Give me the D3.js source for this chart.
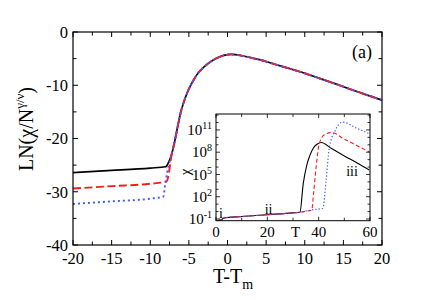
<!DOCTYPE html>
<html>
<head>
<meta charset="utf-8">
<script src="https://cdn.jsdelivr.net/npm/d3@7"></script>
<style>
  body { margin: 0; background: white; }
  text { font-family: "Liberation Serif", "Times New Roman", serif; fill: black; }
</style>
</head>
<body>
<script>

// main panel: [T - Tm, LN(chi / N^(gamma/nu))]
var blackLow = [[-20, -26.4], [-15, -26.0], [-10, -25.55], [-8, -25.3], [-7.6, -24.4]];
var redLow = [[-20, -29.4], [-15, -28.95], [-10, -28.5], [-7.9, -28.1], [-7.6, -26.6], [-7.4, -24.6]];
var blueLow = [[-20, -32.3], [-15, -31.8], [-10, -31.3], [-8.3, -30.9], [-8.1, -29.0], [-7.8, -26.3], [-7.5, -24.4]];
var sharedBranch = [[-7.2, -22.8], [-6.8, -20.3], [-6.4, -17.4], [-6, -14.8], [-5.5, -12.5],
  [-5, -10.7], [-4.5, -9.3], [-4, -8.1], [-3, -6.5], [-2, -5.4], [-1, -4.65], [0, -4.25],
  [0.5, -4.2], [1, -4.25], [2, -4.5], [3, -4.8], [4, -5.15], [5, -5.55], [6, -6.0], [8, -6.85],
  [10, -7.75], [12, -8.75], [14, -9.75], [16, -10.8], [18, -11.8], [20, -12.8]];

// inset: [T, log10(chi)]
var insetLow = [[0.5, -1.2], [2, -1.1], [3.5, -0.83], [10, -0.67], [20, -0.42], [30, -0.17], [32.7, -0.08]];
var insetBlack = [[34.0, 3.8], [35.4, 6.3], [36.5, 7.5], [38, 8.6], [39.5, 9.1], [41, 9.3], [45, 8.5], [50, 7.5], [55, 6.55], [59.7, 5.6]];
var insetRed = [[35, 0.05], [37.3, 0.2], [38, 2.4], [39, 6.0], [40.2, 9.1], [42.2, 10.35], [45, 10.65], [50, 9.77], [55, 8.88], [59.7, 8.05]];
var insetBlue = [[37.3, 0.22], [41.6, 0.45], [42.9, 4.2], [44.1, 8.5], [46.4, 10.9], [49.3, 12.05], [55, 11.2], [59.7, 10.5]];

var xTicks = [-20, -15, -10, -5, 0, 5, 10, 15, 20];
var yTicks = [0, -10, -20, -30, -40];
var insetXTicks = [0, 20, 40, 60];
var insetYExps = [-1, 2, 5, 8, 11];

var width = 436, height = 300;

var svg = d3.select("body").append("svg")
    .attr("width", width)
    .attr("height", height);

var x = d3.scaleLinear().domain([-20, 20]).range([73, 382]);
var y = d3.scaleLinear().domain([-40, 0]).range([245, 32]);

// ticks pointing inward on all four sides
function tickMarks(vals, scale, side, len, g) {
    vals.forEach(function(v) {
        var p = scale(v);
        var line = g.append("line").attr("stroke", "black").attr("stroke-width", 1);
        if (side == "bottom") line.attr("x1", p).attr("x2", p).attr("y1", y.range()[0]).attr("y2", y.range()[0] - len);
        if (side == "top") line.attr("x1", p).attr("x2", p).attr("y1", y.range()[1]).attr("y2", y.range()[1] + len);
        if (side == "left") line.attr("y1", p).attr("y2", p).attr("x1", x.range()[0]).attr("x2", x.range()[0] + len);
        if (side == "right") line.attr("y1", p).attr("y2", p).attr("x1", x.range()[1]).attr("x2", x.range()[1] - len);
    });
}

var axes = svg.append("g");
var xAll = d3.range(-20, 20.1, 2.5);
var yAll = d3.range(-40, 0.1, 5);
["bottom", "top"].forEach(function(s) {
    tickMarks(xAll.filter(function(d) { return d % 5 != 0; }), x, s, 3.5, axes);
    tickMarks(xTicks, x, s, 5, axes);
});
["left", "right"].forEach(function(s) {
    tickMarks(yAll.filter(function(d) { return d % 10 != 0; }), y, s, 3.5, axes);
    tickMarks(yTicks, y, s, 5, axes);
});

var line = d3.line()
    .x(function(d) { return x(d[0]); })
    .y(function(d) { return y(d[1]); })
    .curve(d3.curveMonotoneX);

var mainSeries = [
    {data: blackLow.concat(sharedBranch), color: "black", dash: null, w: 1.7},
    {data: redLow.concat(sharedBranch), color: "#ff1a1a", dash: "8,3.5", w: 1.9},
    {data: blueLow.concat(sharedBranch), color: "#3d5cff", dash: "2,3", w: 1.9}
];

svg.selectAll(".main-line")
    .data(mainSeries)
    .enter()
    .append("path")
    .attr("class", "main-line")
    .attr("d", function(d) { return line(d.data); })
    .attr("fill", "none")
    .attr("stroke", function(d) { return d.color; })
    .attr("stroke-width", function(d) { return d.w; })
    .attr("stroke-dasharray", function(d) { return d.dash; });

svg.append("rect")
    .attr("x", 73).attr("y", 32)
    .attr("width", 382 - 73).attr("height", 245 - 32)
    .attr("fill", "none").attr("stroke", "black").attr("stroke-width", 1.2);

svg.selectAll(".xlab")
    .data(xTicks)
    .enter()
    .append("text")
    .attr("x", function(d) { return x(d); })
    .attr("y", 263.5)
    .attr("text-anchor", "middle")
    .attr("font-size", "16.5px")
    .text(function(d) { return d; });

svg.selectAll(".ylab")
    .data(yTicks)
    .enter()
    .append("text")
    .attr("x", 68)
    .attr("y", function(d) { return y(d); })
    .attr("dy", "0.35em")
    .attr("text-anchor", "end")
    .attr("font-size", "16.5px")
    .text(function(d) { return d; });

// axis titles
var xt = svg.append("text")
    .attr("x", 233).attr("y", 283)
    .attr("text-anchor", "middle")
    .attr("font-size", "20px");
xt.append("tspan").text("T-T");
xt.append("tspan").attr("font-size", "14px").attr("dy", 6).text("m");

var yt = svg.append("text")
    .attr("transform", "translate(33,129) rotate(-90)")
    .attr("text-anchor", "middle")
    .attr("font-size", "20px");
yt.append("tspan").text("LN(\u03c7/N");
yt.append("tspan").attr("font-size", "13px").attr("dy", -9).text("\u03b3/\u03bd");
yt.append("tspan").attr("dy", 9).text(")");

svg.append("text")
    .attr("x", 362).attr("y", 58)
    .attr("text-anchor", "middle")
    .attr("font-size", "18px")
    .text("(a)");

// inset
var xIn = d3.scaleLinear().domain([0, 60]).range([216, 370]);
var yIn = d3.scaleLog().domain([Math.pow(10, -1.23), Math.pow(10, 13.15)]).range([220.7, 114]);

var inset = svg.append("g");
inset.append("rect")
    .attr("x", 216).attr("y", 114)
    .attr("width", 370 - 216).attr("height", 220.7 - 114)
    .attr("fill", "white");

var inLine = d3.line()
    .x(function(d) { return xIn(d[0]); })
    .y(function(d) { return yIn(Math.pow(10, d[1])); })
    .curve(d3.curveMonotoneX);

var insetSeries = [
    {data: insetLow.concat(insetBlack), color: "black", dash: null, w: 1.1},
    {data: insetLow.concat(insetRed), color: "#ff1a1a", dash: "4,2.5", w: 1.1},
    {data: insetLow.concat(insetBlue), color: "#3d5cff", dash: "1.3,2", w: 1.2}
];

inset.selectAll(".in-line")
    .data(insetSeries)
    .enter()
    .append("path")
    .attr("class", "in-line")
    .attr("d", function(d) { return inLine(d.data); })
    .attr("fill", "none")
    .attr("stroke", function(d) { return d.color; })
    .attr("stroke-width", function(d) { return d.w; })
    .attr("stroke-dasharray", function(d) { return d.dash; });

d3.range(0, 61, 10).forEach(function(v) {
    var len = v % 20 == 0 ? 4 : 3;
    inset.append("line").attr("x1", xIn(v)).attr("x2", xIn(v)).attr("y1", 220.7).attr("y2", 220.7 - len)
        .attr("stroke", "black").attr("stroke-width", 0.8);
    inset.append("line").attr("x1", xIn(v)).attr("x2", xIn(v)).attr("y1", 114).attr("y2", 114 + len)
        .attr("stroke", "black").attr("stroke-width", 0.8);
});
d3.range(-1, 14, 1).forEach(function(e) {
    var p = yIn(Math.pow(10, e));
    var len = (e + 1) % 3 == 0 ? 4 : 2.5;
    inset.append("line").attr("x1", 216).attr("x2", 216 + len).attr("y1", p).attr("y2", p)
        .attr("stroke", "black").attr("stroke-width", 0.8);
    inset.append("line").attr("x1", 370).attr("x2", 370 - len).attr("y1", p).attr("y2", p)
        .attr("stroke", "black").attr("stroke-width", 0.8);
});

inset.append("rect")
    .attr("x", 216).attr("y", 114)
    .attr("width", 370 - 216).attr("height", 220.7 - 114)
    .attr("fill", "none").attr("stroke", "black").attr("stroke-width", 1);

inset.selectAll(".inxlab")
    .data(insetXTicks)
    .enter()
    .append("text")
    .attr("x", function(d) { return xIn(d); })
    .attr("y", 236.5)
    .attr("text-anchor", "middle")
    .attr("font-size", "15px")
    .text(function(d) { return d; });

inset.append("text")
    .attr("x", xIn(31)).attr("y", 236.5)
    .attr("text-anchor", "middle")
    .attr("font-size", "15px")
    .text("T");

insetYExps.forEach(function(e) {
    var t = inset.append("text")
        .attr("x", 212)
        .attr("y", yIn(Math.pow(10, e)))
        .attr("dy", "0.35em")
        .attr("text-anchor", "end")
        .attr("font-size", "15px");
    t.append("tspan").text("10");
    t.append("tspan").attr("font-size", "10px").attr("dy", -6).text(e);
});

inset.append("text")
    .attr("transform", "translate(190,172) rotate(-90)")
    .attr("text-anchor", "middle")
    .attr("font-size", "15px")
    .text("\u03c7");

var regionLabels = [["i", 1.9, 217.5], ["ii", 20.5, 214], ["iii", 53, 176]];
regionLabels.forEach(function(r) {
    inset.append("text")
        .attr("x", xIn(r[1])).attr("y", r[2])
        .attr("text-anchor", "middle")
        .attr("font-size", "14px")
        .text(r[0]);
});

</script>
</body>
</html>
